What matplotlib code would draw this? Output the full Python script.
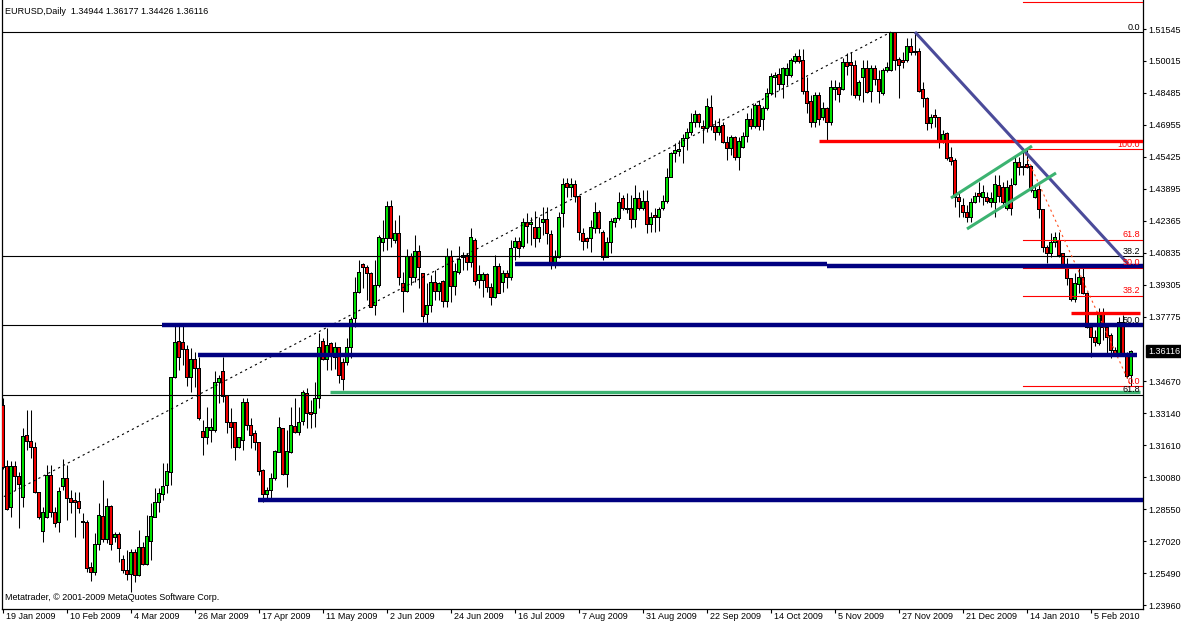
import numpy as np
import matplotlib.pyplot as plt
from matplotlib.transforms import blended_transform_factory

# EURUSD daily bars, 19 Jan 2009 .. 19 Feb 2010
opens = [
    1.3353, 1.3061, 1.2864, 1.3061, 1.3013, 1.2912, 1.3210, 1.3181, 1.3152, 1.2936,
    1.2750, 1.2813, 1.3018, 1.2837, 1.2789, 1.2965, 1.3004, 1.2908, 1.2898, 1.2893,
    1.2798, 1.2793, 1.2577, 1.2553, 1.2688, 1.2822, 1.2712, 1.2869, 1.2717, 1.2736,
    1.2616, 1.2563, 1.2544, 1.2649, 1.2539, 1.2673, 1.2592, 1.2702, 1.2817, 1.2888,
    1.2927, 1.2970, 1.3032, 1.3487, 1.3660, 1.3655, 1.3622, 1.3487, 1.3574, 1.3531,
    1.3229, 1.3200, 1.3234, 1.3234, 1.3463, 1.3516, 1.3401, 1.3268, 1.3268, 1.3152,
    1.3186, 1.3367, 1.3258, 1.3215, 1.3176, 1.3042, 1.2927, 1.2946, 1.3004, 1.3128,
    1.3239, 1.3023, 1.3128, 1.3253, 1.3220, 1.3277, 1.3411, 1.3316, 1.3311, 1.3387,
    1.3660, 1.3574, 1.3646, 1.3583, 1.3631, 1.3555, 1.3555, 1.3627, 1.3766, 1.3894,
    1.4029, 1.4014, 1.3986, 1.3832, 1.3928, 1.4130, 1.4149, 1.4306, 1.4144, 1.4173,
    1.3938, 1.3899, 1.4067, 1.3966, 1.4091, 1.3986, 1.3785, 1.3832, 1.3942, 1.3899,
    1.3947, 1.3851, 1.4067, 1.3923, 1.3990, 1.4058, 1.4072, 1.4034, 1.4144, 1.3952,
    1.3952, 1.3981, 1.3918, 1.3870, 1.4019, 1.3942, 1.3986, 1.3966, 1.4106, 1.4139,
    1.4115, 1.4226, 1.4216, 1.4206, 1.4149, 1.4226, 1.4240, 1.4168, 1.4029, 1.4062,
    1.4269, 1.4417, 1.4397, 1.4412, 1.4354, 1.4173, 1.4149, 1.4149, 1.4197, 1.4278,
    1.4182, 1.4062, 1.4130, 1.4230, 1.4245, 1.4345, 1.4288, 1.4297, 1.4240, 1.4345,
    1.4297, 1.4330, 1.4216, 1.4259, 1.4250, 1.4297, 1.4330, 1.4445, 1.4560, 1.4570,
    1.4594, 1.4628, 1.4657, 1.4705, 1.4743, 1.4686, 1.4676, 1.4780, 1.4686, 1.4657,
    1.4690, 1.4613, 1.4580, 1.4637, 1.4537, 1.4585, 1.4642, 1.4719, 1.4686, 1.4790,
    1.4719, 1.4776, 1.4848, 1.4920, 1.4939, 1.4891, 1.4934, 1.4934, 1.5001, 1.5025,
    1.5006, 1.4857, 1.4809, 1.4709, 1.4838, 1.4733, 1.4772, 1.4709, 1.4867, 1.4872,
    1.4867, 1.4992, 1.4992, 1.4982, 1.4838, 1.4920, 1.4963, 1.4857, 1.4963, 1.4915,
    1.4848, 1.4958, 1.4958, 1.5136, 1.5010, 1.5006, 1.5006, 1.5073, 1.5049, 1.5049,
    1.4867, 1.4824, 1.4700, 1.4738, 1.4729, 1.4613, 1.4652, 1.4537, 1.4527, 1.4349,
    1.4311, 1.4274, 1.4250, 1.4325, 1.4369, 1.4349, 1.4349, 1.4325, 1.4325, 1.4407,
    1.4397, 1.4297, 1.4407, 1.4412, 1.4513, 1.4489, 1.4508, 1.4494, 1.4349, 1.4388,
    1.4288, 1.4106, 1.4077, 1.4134, 1.4144, 1.4077, 1.4029, 1.3962, 1.3861, 1.3933,
    1.3966, 1.3890, 1.3727, 1.3675, 1.3650, 1.3794, 1.3727, 1.3689, 1.3617, 1.3598,
    1.3751, 1.3598, 1.34944,
]
highs = [
    1.3387, 1.3090, 1.3085, 1.3085, 1.3032, 1.3244, 1.3330, 1.3330, 1.3176, 1.2936,
    1.2864, 1.3066, 1.3066, 1.2864, 1.2960, 1.3095, 1.3066, 1.2946, 1.2936, 1.2936,
    1.2837, 1.2803, 1.2601, 1.2741, 1.2884, 1.2994, 1.2908, 1.2874, 1.2745, 1.2745,
    1.2635, 1.2659, 1.2664, 1.2664, 1.2755, 1.2697, 1.2827, 1.2884, 1.2956, 1.2956,
    1.3076, 1.3076, 1.3487, 1.3737, 1.3737, 1.3737, 1.3641, 1.3627, 1.3607, 1.3583,
    1.3282, 1.3343, 1.3292, 1.3516, 1.3497, 1.3583, 1.3401, 1.3339, 1.3268, 1.3200,
    1.3387, 1.3387, 1.3292, 1.3234, 1.3176, 1.3047, 1.2960, 1.3028, 1.3138, 1.3296,
    1.3244, 1.3234, 1.3343, 1.3387, 1.3343, 1.3425, 1.3435, 1.3377, 1.3463, 1.3699,
    1.3675, 1.3723, 1.3655, 1.3655, 1.3631, 1.3579, 1.3675, 1.3775, 1.3966, 1.4048,
    1.4034, 1.4024, 1.3990, 1.4048, 1.4168, 1.4240, 1.4330, 1.4335, 1.4240, 1.4264,
    1.3990, 1.4101, 1.4082, 1.4168, 1.4120, 1.3986, 1.3938, 1.3976, 1.4000, 1.3942,
    1.3952, 1.4106, 1.4096, 1.4034, 1.4115, 1.4086, 1.4082, 1.4202, 1.4154, 1.4024,
    1.3990, 1.3986, 1.3938, 1.4072, 1.4034, 1.4000, 1.4000, 1.4144, 1.4158, 1.4158,
    1.4250, 1.4274, 1.4254, 1.4283, 1.4254, 1.4301, 1.4301, 1.4192, 1.4096, 1.4278,
    1.4441, 1.4441, 1.4441, 1.4431, 1.4359, 1.4202, 1.4158, 1.4240, 1.4325, 1.4288,
    1.4192, 1.4158, 1.4250, 1.4254, 1.4373, 1.4359, 1.4369, 1.4359, 1.4407, 1.4373,
    1.4383, 1.4383, 1.4278, 1.4297, 1.4301, 1.4359, 1.4489, 1.4565, 1.4609, 1.4623,
    1.4652, 1.4681, 1.4753, 1.4767, 1.4753, 1.4719, 1.4824, 1.4838, 1.4719, 1.4729,
    1.4709, 1.4642, 1.4647, 1.4642, 1.4637, 1.4661, 1.4753, 1.4776, 1.4800, 1.4814,
    1.4785, 1.4872, 1.4944, 1.4948, 1.4968, 1.4972, 1.4992, 1.5016, 1.5040, 1.5059,
    1.5059, 1.4924, 1.4838, 1.4852, 1.4852, 1.4804, 1.4780, 1.4910, 1.4910, 1.4900,
    1.5016, 1.5040, 1.5044, 1.5006, 1.4910, 1.5006, 1.5006, 1.4982, 1.4982, 1.4958,
    1.4968, 1.4996, 1.5140, 1.5140, 1.5020, 1.5044, 1.5112, 1.5112, 1.5140, 1.5064,
    1.4900, 1.4828, 1.4748, 1.4771, 1.4733, 1.4671, 1.4661, 1.4589, 1.4537, 1.4369,
    1.4345, 1.4311, 1.4345, 1.4373, 1.4421, 1.4407, 1.4373, 1.4373, 1.4455, 1.4455,
    1.4421, 1.4431, 1.4441, 1.4551, 1.4542, 1.4585, 1.4585, 1.4503, 1.4407, 1.4407,
    1.4288, 1.4120, 1.4178, 1.4182, 1.4182, 1.4082, 1.4058, 1.3962, 1.3986, 1.4024,
    1.4024, 1.3894, 1.3746, 1.3713, 1.3818, 1.3818, 1.3746, 1.3699, 1.3631, 1.3775,
    1.3785, 1.3607, 1.36177,
]
lows = [
    1.3047, 1.2851, 1.2817, 1.2946, 1.2765, 1.2864, 1.3138, 1.3100, 1.2932, 1.2808,
    1.2697, 1.2813, 1.2817, 1.2769, 1.2745, 1.2946, 1.2803, 1.2837, 1.2721, 1.2837,
    1.2717, 1.2553, 1.2510, 1.2539, 1.2659, 1.2697, 1.2693, 1.2659, 1.2697, 1.2601,
    1.2549, 1.2515, 1.2457, 1.2505, 1.2534, 1.2587, 1.2587, 1.2611, 1.2817, 1.2841,
    1.2898, 1.2932, 1.2970, 1.3483, 1.3521, 1.3545, 1.3444, 1.3415, 1.3439, 1.3282,
    1.3114, 1.3167, 1.3176, 1.3224, 1.3363, 1.3367, 1.3220, 1.3148, 1.3090, 1.3148,
    1.3138, 1.3234, 1.3148, 1.3138, 1.3018, 1.2888, 1.2898, 1.2898, 1.2994, 1.3128,
    1.3018, 1.2960, 1.3124, 1.3220, 1.3210, 1.3258, 1.3244, 1.3244, 1.3248, 1.3339,
    1.3569, 1.3521, 1.3521, 1.3526, 1.3459, 1.3425, 1.3545, 1.3579, 1.3727, 1.3890,
    1.3914, 1.3856, 1.3822, 1.3785, 1.3918, 1.4091, 1.4096, 1.4110, 1.4130, 1.3928,
    1.3799, 1.3894, 1.3928, 1.3942, 1.3914, 1.3751, 1.3746, 1.3799, 1.3856, 1.3856,
    1.3822, 1.3822, 1.3846, 1.3880, 1.3981, 1.4000, 1.4000, 1.4014, 1.3928, 1.3914,
    1.3870, 1.3894, 1.3832, 1.3866, 1.3890, 1.3894, 1.3914, 1.3952, 1.4048, 1.4062,
    1.4106, 1.4130, 1.4120, 1.4110, 1.4134, 1.4168, 1.4125, 1.4005, 1.4010, 1.4058,
    1.4206, 1.4349, 1.4349, 1.4325, 1.4144, 1.4096, 1.4106, 1.4086, 1.4178, 1.4178,
    1.4048, 1.4062, 1.4082, 1.4206, 1.4240, 1.4288, 1.4274, 1.4202, 1.4206, 1.4288,
    1.4288, 1.4178, 1.4182, 1.4182, 1.4187, 1.4288, 1.4320, 1.4465, 1.4517, 1.4546,
    1.4513, 1.4575, 1.4647, 1.4686, 1.4686, 1.4609, 1.4661, 1.4671, 1.4623, 1.4647,
    1.4609, 1.4527, 1.4551, 1.4527, 1.4479, 1.4585, 1.4613, 1.4676, 1.4681, 1.4671,
    1.4671, 1.4767, 1.4838, 1.4828, 1.4862, 1.4824, 1.4886, 1.4924, 1.4992, 1.4992,
    1.4843, 1.4753, 1.4686, 1.4686, 1.4695, 1.4719, 1.4618, 1.4695, 1.4814, 1.4804,
    1.4862, 1.4934, 1.4838, 1.4824, 1.4814, 1.4804, 1.4848, 1.4804, 1.4886, 1.4800,
    1.4838, 1.4948, 1.4953, 1.4958, 1.4824, 1.4968, 1.4996, 1.5030, 1.5030, 1.4852,
    1.4780, 1.4671, 1.4681, 1.4686, 1.4585, 1.4609, 1.4527, 1.4503, 1.4301, 1.4254,
    1.4254, 1.4230, 1.4230, 1.4320, 1.4325, 1.4311, 1.4320, 1.4301, 1.4254, 1.4325,
    1.4301, 1.4288, 1.4264, 1.4407, 1.4455, 1.4455, 1.4489, 1.4373, 1.4345, 1.4250,
    1.4086, 1.4034, 1.4062, 1.4110, 1.4062, 1.4014, 1.3928, 1.3851, 1.3846, 1.3890,
    1.3885, 1.3723, 1.3583, 1.3636, 1.3641, 1.3665, 1.3593, 1.3579, 1.3593, 1.3593,
    1.3593, 1.3483, 1.34426,
]
closes = [
    1.3056, 1.2855, 1.3061, 1.3013, 1.2975, 1.3205, 1.3181, 1.3148, 1.2936, 1.2813,
    1.2841, 1.3018, 1.2837, 1.2784, 1.2941, 1.3004, 1.2908, 1.2888, 1.2888, 1.2860,
    1.2793, 1.2573, 1.2553, 1.2688, 1.2827, 1.2712, 1.2869, 1.2688, 1.2736, 1.2669,
    1.2563, 1.2544, 1.2649, 1.2539, 1.2673, 1.2592, 1.2726, 1.2822, 1.2888, 1.2932,
    1.2965, 1.3037, 1.3487, 1.3655, 1.3579, 1.3622, 1.3487, 1.3574, 1.3531, 1.3287,
    1.3200, 1.3244, 1.3244, 1.3463, 1.3483, 1.3396, 1.3268, 1.3248, 1.3152, 1.3196,
    1.3367, 1.3258, 1.3210, 1.3176, 1.3037, 1.2927, 1.2946, 1.3004, 1.3133, 1.3244,
    1.3023, 1.3133, 1.3258, 1.3220, 1.3272, 1.3415, 1.3311, 1.3306, 1.3387, 1.3631,
    1.3574, 1.3641, 1.3588, 1.3631, 1.3497, 1.3478, 1.3627, 1.3761, 1.3894, 1.3990,
    1.4010, 1.3986, 1.3822, 1.3928, 1.4154, 1.4149, 1.4306, 1.4149, 1.4173, 1.3966,
    1.3899, 1.4067, 1.3966, 1.4091, 1.4014, 1.3780, 1.3832, 1.3942, 1.3899, 1.3938,
    1.3851, 1.4067, 1.3923, 1.3995, 1.4053, 1.4072, 1.4034, 1.4154, 1.3947, 1.3981,
    1.3981, 1.3918, 1.3870, 1.4019, 1.3890, 1.3986, 1.3966, 1.4101, 1.4139, 1.4101,
    1.4226, 1.4211, 1.4230, 1.4149, 1.4202, 1.4240, 1.4173, 1.4029, 1.4062, 1.4250,
    1.4412, 1.4397, 1.4412, 1.4354, 1.4182, 1.4139, 1.4139, 1.4202, 1.4278, 1.4197,
    1.4062, 1.4130, 1.4235, 1.4245, 1.4325, 1.4297, 1.4297, 1.4240, 1.4345, 1.4297,
    1.4330, 1.4216, 1.4254, 1.4250, 1.4292, 1.4330, 1.4445, 1.4560, 1.4575, 1.4579,
    1.4628, 1.4661, 1.4705, 1.4743, 1.4705, 1.4676, 1.4785, 1.4686, 1.4661, 1.4686,
    1.4609, 1.4580, 1.4637, 1.4537, 1.4618, 1.4642, 1.4719, 1.4686, 1.4790, 1.4686,
    1.4776, 1.4848, 1.4929, 1.4934, 1.4891, 1.4963, 1.4963, 1.5006, 1.5025, 1.5001,
    1.4857, 1.4800, 1.4709, 1.4838, 1.4719, 1.4772, 1.4709, 1.4872, 1.4876, 1.4843,
    1.4992, 1.4977, 1.4982, 1.4838, 1.4900, 1.4963, 1.4852, 1.4963, 1.4915, 1.4857,
    1.4958, 1.4968, 1.5136, 1.5006, 1.4982, 1.4996, 1.5073, 1.5044, 1.5040, 1.4857,
    1.4824, 1.4700, 1.4733, 1.4729, 1.4613, 1.4647, 1.4532, 1.4522, 1.4349, 1.4330,
    1.4274, 1.4250, 1.4325, 1.4354, 1.4354, 1.4373, 1.4330, 1.4345, 1.4412, 1.4354,
    1.4325, 1.4397, 1.4297, 1.4513, 1.4489, 1.4498, 1.4489, 1.4383, 1.4383, 1.4288,
    1.4106, 1.4077, 1.4134, 1.4154, 1.4072, 1.4024, 1.3962, 1.3861, 1.3938, 1.3966,
    1.3890, 1.3727, 1.3675, 1.3655, 1.3794, 1.3727, 1.3679, 1.3617, 1.3598, 1.3751,
    1.3598, 1.3492, 1.36116,
]

date_labels = ["19 Jan 2009", "10 Feb 2009", "4 Mar 2009", "26 Mar 2009", "17 Apr 2009",
               "11 May 2009", "2 Jun 2009", "24 Jun 2009", "16 Jul 2009", "7 Aug 2009",
               "31 Aug 2009", "22 Sep 2009", "14 Oct 2009", "5 Nov 2009", "27 Nov 2009",
               "21 Dec 2009", "14 Jan 2010", "5 Feb 2010"]
price_ticks = [1.51545, 1.50015, 1.48485, 1.46955, 1.45425, 1.43895, 1.42365, 1.40835,
               1.39305, 1.37775, 1.34670, 1.33140, 1.31610, 1.30080, 1.28550, 1.27020,
               1.25490, 1.23960]

# drawn objects: (from bar, to bar, price)
blue_lines = [(128, 206, 1.4029), (206, 285.5, 1.4019), (39.75, 285.5, 1.3737),
              (48.75, 283.5, 1.3593), (63.75, 285.5, 1.2898)]
green_line = (81.75, 284.3, 1.3415)
red_lines = [(204, 285.5, 1.4618), (267, 284.3, 1.3795)]
trend_down = [(228, 1.5140), (281.25, 1.4030)]
channel_up = [(237, 1.4345), (257.25, 1.4594)]
channel_low = [(241, 1.4197), (263.25, 1.4465)]
fib_levels = [0.0, 38.2, 50.0, 61.8, 100.0, 161.8]
fib_big = (-58, 1.2331, 222, 1.5140)      # low bar, low, high bar, high
fib_small = (255, 1.4580, 282, 1.34426)   # high bar, high, low bar, low

n = len(closes)
idx = np.arange(n)
o = np.array(opens); h = np.array(highs); l = np.array(lows); c = np.array(closes)

plt.rcParams['font.family'] = 'Liberation Sans'
fs = 6.5
ymin, ymax = 1.23769, 1.52934
px = (ymax - ymin) / 609   # one screen pixel in price units

fig = plt.figure(figsize=(11.81, 6.24), dpi=100)
ax = fig.add_axes([2 / 1181, 15 / 624, 1141 / 1181, 609 / 624])
ax.set_xlim(-0.25, 285.0)
ax.set_ylim(ymin, ymax)
yx = blended_transform_factory(ax.transAxes, ax.transData)

# candles: black frame, coloured core
ax.vlines(idx, l, h, color='black', lw=0.75, zorder=2)
up = c >= o
top = np.maximum(o, c)
bot = np.minimum(o, c)
ax.bar(idx, np.maximum(top - bot, px) + px, bottom=bot - px / 2, width=0.78,
       color='black', lw=0, zorder=3)
inner = np.maximum(top - bot - px, 0)
ax.bar(idx, inner, bottom=bot + px / 2, width=0.36,
       color=np.where(up, '#00e000', '#ee0000'), lw=0, zorder=3.5)

# big fibo (black) over the whole width
lo_bar, lo_p, hi_bar, hi_p = fib_big
rng = hi_p - lo_p
for lv in fib_levels:
    p = hi_p - rng * lv / 100
    ax.plot([-1, 286], [p, p], color='black', lw=0.8, zorder=4)
    if ymin < p < ymax - 0.003:
        ax.annotate(f"{lv:.1f}", xy=(1, p), xycoords=yx, xytext=(-2, 0.3),
                    textcoords='offset points', ha='right', va='bottom',
                    fontsize=fs, color='black', zorder=8)
ax.plot([lo_bar, hi_bar], [lo_p, hi_p], color='black', lw=0.8, ls=(0, (2, 3)), zorder=4)

# small fibo (red)
hb, hp, lb, lp = fib_small
rng2 = hp - lp
for lv in fib_levels:
    p = lp + rng2 * lv / 100
    ax.plot([hb, 286], [p, p], color='#ff0000', lw=0.8, zorder=4)
    if ymin < p < ymax - 0.003:
        ax.annotate(f"{lv:.1f}", xy=(1, p), xycoords=yx, xytext=(-2, 0.3),
                    textcoords='offset points', ha='right', va='bottom',
                    fontsize=fs, color='#ff0000', zorder=8)
ax.plot([hb, lb], [hp, lp], color='#ff5020', lw=0.8, ls=(0, (2, 3)), zorder=4)

# horizontal objects
for x0, x1, p in blue_lines:
    ax.plot([x0, x1], [p, p], color='#000080', lw=3.2, solid_capstyle='butt', zorder=5)
ax.plot(green_line[:2], [green_line[2]] * 2, color='#3cb371', lw=2.4, solid_capstyle='butt', zorder=5)
for x0, x1, p in red_lines:
    ax.plot([x0, x1], [p, p], color='#ff0000', lw=2.4, solid_capstyle='butt', zorder=5)

# trend lines
for seg, col in [(trend_down, '#4b4b9a'), (channel_up, '#3cb371'), (channel_low, '#3cb371')]:
    ax.plot([seg[0][0], seg[1][0]], [seg[0][1], seg[1][1]], color=col, lw=2.2,
            solid_capstyle='butt', zorder=5)

# axes look
ax.spines['top'].set_visible(False)
for s in ['left', 'bottom', 'right']:
    ax.spines[s].set_linewidth(0.9)
ax.set_xticks(idx[::16])
ax.set_xticklabels([])
ax.tick_params(axis='x', length=3, width=0.8, direction='out')
ax.yaxis.tick_right()
ax.set_yticks(price_ticks)
ax.set_yticklabels([f"{p:.5f}" for p in price_ticks])
ax.tick_params(axis='y', length=2.5, width=0.8, pad=1.5, labelsize=fs, right=True, left=False)
for k, lab in zip(idx[::16], date_labels):
    ax.annotate(lab, xy=(k, 0), xycoords=blended_transform_factory(ax.transData, ax.transAxes),
                xytext=(2, -2.5), textcoords='offset points', ha='left', va='top',
                fontsize=fs, annotation_clip=False)

# current price tag
ax.annotate(f"{closes[-1]:.5f}", xy=(1, closes[-1]), xycoords=yx,
            xytext=(3.6, 0), textcoords='offset points', ha='left', va='center',
            fontsize=fs, color='white', annotation_clip=False,
            bbox=dict(boxstyle='square,pad=0.2', fc='black', ec='black'))

fig.text(5 / 1181, 1 - 11 / 624,
         f"EURUSD,Daily  {opens[-1]:.5f} {highs[-1]:.5f} {lows[-1]:.5f} {closes[-1]:.5f}",
         fontsize=fs, va='center', ha='left')
fig.text(5 / 1181, 1 - 598 / 624, "Metatrader, \u00a9 2001-2009 MetaQuotes Software Corp.",
         fontsize=fs, va='center', ha='left')

fig.savefig("out.png", dpi=100)
